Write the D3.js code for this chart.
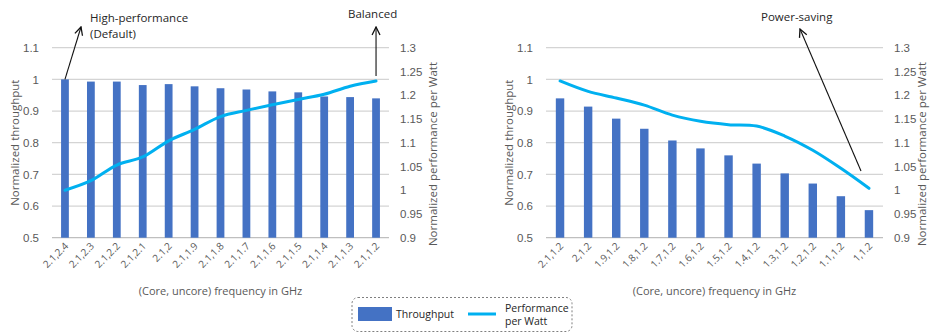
<!DOCTYPE html>
<html>
<head>
<meta charset="utf-8">
<script src="https://cdn.jsdelivr.net/npm/d3@7"></script>
<style>
  body { margin: 0; background: #fff; }
  svg { display: block; font-family: "Open Sans", "Liberation Sans", sans-serif; }
  .tick text { fill: #595959; }
</style>
</head>
<body>
<div id="chart"></div>
<script>
// left panel: raising uncore freq
const leftCats = ["2.1,2.4", "2.1,2.3", "2.1,2.2", "2.1,2.1", "2.1,2", "2.1,1.9", "2.1,1.8",
  "2.1,1.7", "2.1,1.6", "2.1,1.5", "2.1,1.4", "2.1,1.3", "2.1,1.2"];
const leftThroughput = [1.0, 0.993, 0.993, 0.982, 0.985, 0.978, 0.972, 0.968, 0.962, 0.959, 0.946, 0.944, 0.94];
const leftPerfWatt = [1.0, 1.02, 1.053, 1.07, 1.104, 1.128, 1.155, 1.168, 1.18, 1.191, 1.202, 1.219, 1.23];

// right panel: lowering core freq
const rightCats = ["2.1,1.2", "2,1.2", "1.9,1.2", "1.8,1.2", "1.7,1.2", "1.6,1.2",
  "1.5,1.2", "1.4,1.2", "1.3,1.2", "1.2,1.2", "1.1,1.2", "1,1.2"];
const rightThroughput = [0.94, 0.914, 0.876, 0.844, 0.807, 0.782, 0.76, 0.734, 0.703, 0.671, 0.631, 0.587];
const rightPerfWatt = [1.23, 1.208, 1.194, 1.179, 1.158, 1.145, 1.138, 1.135, 1.114, 1.084, 1.046, 1.004];

const leftTicks = [0.5, 0.6, 0.7, 0.8, 0.9, 1, 1.1];
const rightTicks = [0.9, 0.95, 1, 1.05, 1.1, 1.15, 1.2, 1.25, 1.3];

const width = 932;
const height = 333;
const barColor = "#4472C4";
const lineColor = "#00B0F0";

const svg = d3.select("#chart")
  .append("svg")
  .attr("width", width)
  .attr("height", height);

svg.append("defs").append("marker")
  .attr("id", "arrow")
  .attr("viewBox", "0 0 10 10")
  .attr("refX", 9).attr("refY", 5)
  .attr("markerWidth", 9).attr("markerHeight", 9)
  .attr("orient", "auto")
  .append("path")
    .attr("d", "M1,1 L9,5 L1,9")
    .attr("fill", "none")
    .attr("stroke", "#111")
    .attr("stroke-width", 1.3);

const drawPanel = (cats, thr, ppw, x0, x1, leftLabelX, rightLabelX) => {
  const top = 47.7, bottom = 237.7;

  const xScale = d3.scaleBand()
    .domain(cats)
    .range([x0, x1])
    .paddingInner(0.7)
    .paddingOuter(0.35);

  const yLeft = d3.scaleLinear().domain([0.5, 1.1]).range([bottom, top]);
  const yRight = d3.scaleLinear().domain([0.9, 1.3]).range([bottom, top]);

  const g = svg.append("g");

  // gridlines
  g.selectAll(".grid")
    .data(leftTicks)
    .join("line")
      .attr("class", "grid")
      .attr("x1", x0).attr("x2", x1)
      .attr("y1", d => yLeft(d)).attr("y2", d => yLeft(d))
      .attr("stroke", d => d === 0.5 ? "#bfbfbf" : "#d4d4d4")
      .attr("stroke-width", 1.3);

  // left axis (labels only)
  const leftAxis = g.append("g")
    .attr("transform", `translate(${x0 - 10},0)`)
    .call(d3.axisLeft(yLeft).tickValues(leftTicks).tickSize(0).tickFormat(d3.format("~g")));
  leftAxis.select(".domain").remove();
  leftAxis.selectAll("text").style("font-size", "11.5px").attr("dx", 0);

  const rightAxis = g.append("g")
    .attr("transform", `translate(${x1 + 8},0)`)
    .call(d3.axisRight(yRight).tickValues(rightTicks).tickSize(0).tickFormat(d3.format("~g")));
  rightAxis.select(".domain").remove();
  rightAxis.selectAll("text").style("font-size", "11.5px").attr("dx", 0);

  // bars
  g.selectAll(".bar")
    .data(cats.map((c, i) => ({cat: c, v: thr[i]})))
    .join("rect")
      .attr("class", "bar")
      .attr("x", d => xScale(d.cat))
      .attr("y", d => yLeft(d.v))
      .attr("width", xScale.bandwidth())
      .attr("height", d => yLeft(0.5) - yLeft(d.v))
      .attr("fill", barColor);

  // smooth line, excel style
  const line = d3.line()
    .x(d => xScale(d.cat) + xScale.bandwidth() / 2)
    .y(d => yRight(d.v))
    .curve(d3.curveCatmullRom.alpha(0.5));

  g.append("path")
    .datum(cats.map((c, i) => ({cat: c, v: ppw[i]})))
    .attr("d", line)
    .attr("fill", "none")
    .attr("stroke", lineColor)
    .attr("stroke-width", 3)
    .attr("stroke-linecap", "round");

  // x tick labels, rotated 45deg, ending under each bar
  g.selectAll(".xlab")
    .data(cats)
    .join("text")
      .attr("class", "xlab")
      .attr("transform", d => `translate(${xScale(d) + xScale.bandwidth() / 2 + 4},${bottom + 9}) rotate(-45)`)
      .attr("text-anchor", "end")
      .attr("fill", "#595959")
      .style("font-size", "10px")
      .text(d => d);

  // axis titles
  g.append("text")
    .attr("x", (x0 + x1) / 2)
    .attr("y", 295)
    .attr("text-anchor", "middle")
    .attr("fill", "#595959")
    .style("font-size", "11px")
    .text("(Core, uncore) frequency in GHz");

  g.append("text")
    .attr("transform", `translate(${leftLabelX},${(top + bottom) / 2}) rotate(-90)`)
    .attr("text-anchor", "middle")
    .attr("fill", "#595959")
    .style("font-size", "11.5px")
    .text("Normalized throughput");

  g.append("text")
    .attr("transform", `translate(${rightLabelX},154) rotate(-90)`)
    .attr("text-anchor", "middle")
    .attr("fill", "#595959")
    .style("font-size", "11.5px")
    .text("Normalized performance per Watt");

  return {xScale, yLeft, yRight, g};
};

const L = drawPanel(leftCats, leftThroughput, leftPerfWatt, 52, 389, 19, 437);
const R = drawPanel(rightCats, rightThroughput, rightPerfWatt, 546, 883, 513, 926);

const annText = (x, y, lines) => {
  const t = svg.append("text")
    .attr("x", x).attr("y", y)
    .attr("fill", "#262626")
    .style("font-size", "11.5px");
  lines.forEach((s, i) => t.append("tspan").attr("x", x).attr("dy", i ? 16 : 0).text(s));
};
const arrow = (xa, ya, xb, yb) => {
  svg.append("line")
    .attr("x1", xa).attr("y1", ya).attr("x2", xb).attr("y2", yb)
    .attr("stroke", "#111").attr("stroke-width", 1.1)
    .attr("marker-end", "url(#arrow)");
};

// annotations
const lx0 = L.xScale(leftCats[0]) + L.xScale.bandwidth() / 2;
const lxN = L.xScale(leftCats[leftCats.length - 1]) + L.xScale.bandwidth() / 2;
annText(90, 22, ["High-performance", "(Default)"]);
arrow(lx0, L.yLeft(leftThroughput[0]), 81, 27);
annText(348, 18, ["Balanced"]);
arrow(lxN, 76, lxN, 27);
annText(761, 21, ["Power-saving"]);
arrow(861, 171, 800, 29);

// legend
const legend = svg.append("g");
legend.append("rect")
  .attr("x", 352).attr("y", 297.5)
  .attr("width", 220).attr("height", 34)
  .attr("rx", 6)
  .attr("fill", "none")
  .attr("stroke", "#7f7f7f")
  .attr("stroke-dasharray", "2,2");
legend.append("rect")
  .attr("x", 358).attr("y", 307)
  .attr("width", 34).attr("height", 14)
  .attr("fill", barColor);
legend.append("text")
  .attr("x", 396).attr("y", 318)
  .attr("fill", "#262626")
  .style("font-size", "10.5px")
  .text("Throughput");
legend.append("line")
  .attr("x1", 468).attr("x2", 496)
  .attr("y1", 314).attr("y2", 314)
  .attr("stroke", lineColor).attr("stroke-width", 3);
const lt = legend.append("text")
  .attr("fill", "#262626")
  .style("font-size", "10.5px");
lt.append("tspan").attr("x", 505).attr("y", 312).text("Performance");
lt.append("tspan").attr("x", 505).attr("y", 325).text("per Watt");
</script>
</body>
</html>
